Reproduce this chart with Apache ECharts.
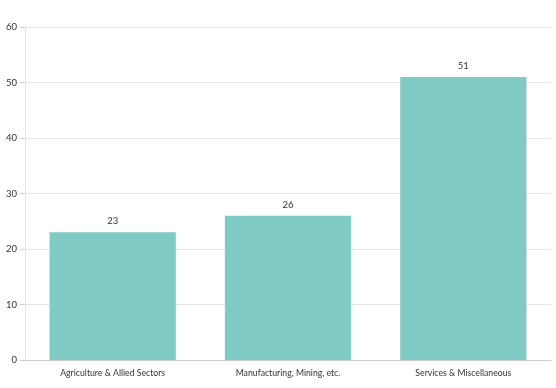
<!DOCTYPE html>
<html><head><meta charset="utf-8">
<script src="https://cdn.jsdelivr.net/npm/echarts@6/dist/echarts.min.js"></script>
<style>html,body{margin:0;padding:0;background:#fff}#c{width:556px;height:388px}</style>
</head><body><div id="c"></div>
<script>
const categories = ["Agriculture & Allied Sectors", "Manufacturing, Mining, etc.", "Services & Miscellaneous"];
const values = [23, 26, 51];
const yTicks = [0, 10, 20, 30, 40, 50, 60];

const FONT = 'Lato';
const chart = echarts.init(document.getElementById('c'), null, {renderer: 'canvas'});
chart.setOption({
  animation: false,
  grid: {left: 25, right: 5, top: 27, bottom: 28, containLabel: false},
  xAxis: {
    type: 'category', data: categories,
    axisLine: {lineStyle: {color: '#cccccc'}},
    axisTick: {show: false},
    axisLabel: {color: '#333', fontSize: 8.7, fontFamily: FONT, margin: 9}
  },
  yAxis: {
    type: 'value', min: yTicks[0], max: yTicks[yTicks.length - 1], interval: 10,
    axisLine: {show: true, lineStyle: {color: '#e6e6e6'}},
    axisTick: {show: true, length: 5, lineStyle: {color: '#cccccc'}},
    splitLine: {lineStyle: {color: '#e6e6e6'}},
    axisLabel: {color: '#333', fontSize: 9.5, fontFamily: FONT, margin: 8}
  },
  series: [{
    type: 'bar', data: values, barWidth: '72%',
    itemStyle: {color: '#80cbc4'},
    label: {show: true, position: 'top', color: '#333', fontSize: 9.5, fontFamily: FONT, distance: 6}
  }]
});
</script></body></html>
